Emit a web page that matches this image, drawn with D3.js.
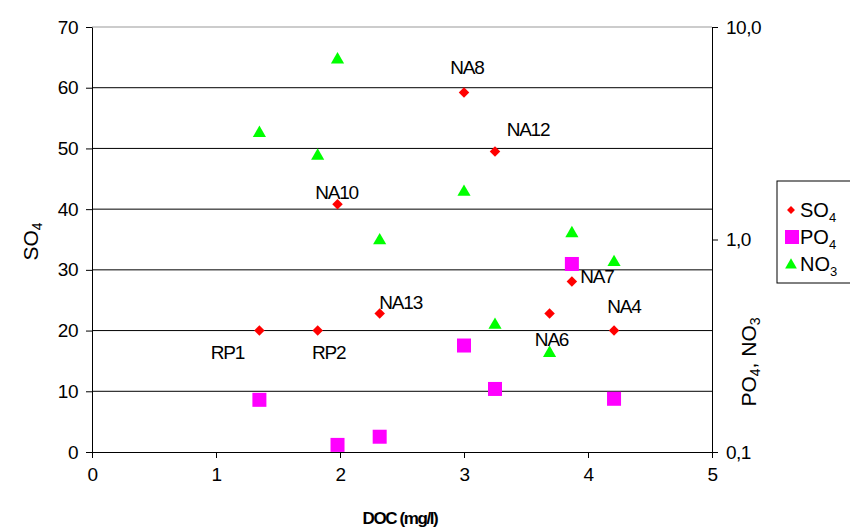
<!DOCTYPE html>
<html>
<head>
<meta charset="utf-8">
<script src="https://cdn.jsdelivr.net/npm/d3@7"></script>
<style>
  body { margin: 0; background: #fff; }
  svg { font-family: "Liberation Sans", Arial, sans-serif; }
</style>
</head>
<body>
<div class="container"></div>
<script>
const sites = ["RP1", "RP2", "NA13", "NA10", "NA8", "NA12", "NA7", "NA6", "NA4"];
const doc = [1.35, 1.82, 2.32, 1.98, 3.0, 3.25, 3.87, 3.69, 4.21];
const so4 = [20, 20, 22.8, 40.8, 59.2, 49.5, 28.1, 22.8, 20];
const po4 = [0.176, null, 0.118, 0.108, 0.317, 0.198, 0.767, null, 0.178];
const no3 = [3.2, 2.5, 1.0, 7.1, 1.69, 0.40, 1.08, 0.295, 0.79];

const xTicks = [0, 1, 2, 3, 4, 5];
const leftTicks = [0, 10, 20, 30, 40, 50, 60, 70];
const rightTicks = [0.1, 1, 10];

// where each site label sits relative to its diamond
const labelPos = {
  RP1: [-32, 28], RP2: [11, 28], NA13: [21, -5], NA10: [-1, -5], NA8: [3, -19],
  NA12: [33, -15], NA7: [25, 2], NA6: [2, 32], NA4: [10, -18]
};

const width = 850, height = 528;
const margin = { top: 27, right: 138, bottom: 76, left: 92 };

const svg = d3.select(".container")
  .append("svg")
  .attr("width", width)
  .attr("height", height);

const x = d3.scaleLinear().domain([0, 5]).range([margin.left, width - margin.right]);
const yL = d3.scaleLinear().domain([0, 70]).range([height - margin.bottom, margin.top]);
const yR = d3.scaleLog().domain([0.1, 10]).range([height - margin.bottom, margin.top]);

// gridlines
svg.append("g")
  .selectAll("line")
  .data(leftTicks.filter(d => d > 0))
  .enter().append("line")
  .attr("x1", x(0)).attr("x2", x(5))
  .attr("y1", d => yL(d)).attr("y2", d => yL(d))
  .attr("stroke", d => d === 70 ? "#999" : "#000")
  .attr("stroke-width", 1);

// axes
const fmt = d3.format(".1f");
const axisStyle = g => {
  g.select(".domain").attr("stroke", "#000");
  g.selectAll(".tick line").attr("stroke", "#000");
  g.selectAll("text").attr("font-size", 19).attr("fill", "#000")
    .attr("letter-spacing", -0.5)
    .attr("font-family", "'Liberation Sans', Arial, sans-serif");
};

svg.append("g")
  .attr("transform", `translate(0,${yL(0)})`)
  .call(d3.axisBottom(x).tickValues(xTicks).tickFormat(d3.format("d"))
    .tickSize(6).tickPadding(10).tickSizeOuter(0))
  .call(axisStyle);

svg.append("g")
  .attr("transform", `translate(${x(0)},0)`)
  .call(d3.axisLeft(yL).tickValues(leftTicks).tickSize(6).tickPadding(8).tickSizeOuter(0))
  .call(axisStyle);

svg.append("g")
  .attr("transform", `translate(${x(5)},0)`)
  .call(d3.axisRight(yR).tickValues(rightTicks).tickFormat(d => fmt(d).replace(".", ","))
    .tickSize(6).tickPadding(8).tickSizeOuter(0))
  .call(axisStyle);

// axis titles
svg.append("text")
  .attr("transform", `translate(38,${(yL(0) + yL(70)) / 2 + 2}) rotate(-90)`)
  .attr("text-anchor", "middle")
  .attr("font-size", 21)
  .html('SO<tspan font-size="14" dy="4">4</tspan>');

svg.append("text")
  .attr("transform", `translate(756,362) rotate(-90)`)
  .attr("text-anchor", "middle")
  .attr("font-size", 21)
  .html('PO<tspan font-size="14" dy="4">4</tspan><tspan dy="-4">, NO</tspan><tspan font-size="14" dy="4">3</tspan>');

svg.append("text")
  .attr("x", (x(0) + x(5)) / 2 - 2)
  .attr("y", 524)
  .attr("text-anchor", "middle")
  .attr("font-size", 17)
  .attr("font-weight", "bold")
  .attr("letter-spacing", -1.4)
  .text("DOC (mg/l)");

// NO3 triangles (right axis)
const tri = d3.symbol().type(d3.symbolTriangle).size(75);
svg.append("g")
  .selectAll("path")
  .data(sites.map((s, i) => ({ x: doc[i], v: no3[i] })).filter(d => d.v != null))
  .enter().append("path")
  .attr("d", tri)
  .attr("transform", d => `translate(${x(d.x)},${yR(d.v) + 1})`)
  .attr("fill", "#00ff00");

// PO4 squares (right axis)
svg.append("g")
  .selectAll("rect")
  .data(sites.map((s, i) => ({ x: doc[i], v: po4[i] })).filter(d => d.v != null))
  .enter().append("rect")
  .attr("x", d => x(d.x) - 7)
  .attr("y", d => yR(d.v) - 7)
  .attr("width", 14)
  .attr("height", 14)
  .attr("fill", "#ff00ff");

// SO4 diamonds (left axis)
const diamond = d3.symbol().type(d3.symbolDiamond2).size(70);
const so4Data = sites.map((s, i) => ({ name: s, x: doc[i], v: so4[i] }));
svg.append("g")
  .selectAll("path")
  .data(so4Data)
  .enter().append("path")
  .attr("d", diamond)
  .attr("transform", d => `translate(${x(d.x)},${yL(d.v)})`)
  .attr("fill", "#ff0000");

// site labels
svg.append("g")
  .selectAll("text")
  .data(so4Data)
  .enter().append("text")
  .attr("x", d => x(d.x) + labelPos[d.name][0])
  .attr("y", d => yL(d.v) + labelPos[d.name][1])
  .attr("text-anchor", "middle")
  .attr("font-size", 19)
  .attr("letter-spacing", -1.2)
  .text(d => d.name);

// legend
const legend = svg.append("g").attr("transform", "translate(777,181)");
legend.append("rect")
  .attr("width", 80).attr("height", 102)
  .attr("fill", "#fff").attr("stroke", "#000");

const legendItems = [
  { name: "SO", sub: "4", kind: "diamond", color: "#ff0000" },
  { name: "PO", sub: "4", kind: "square", color: "#ff00ff" },
  { name: "NO", sub: "3", kind: "triangle", color: "#00ff00" }
];
legendItems.forEach((d, i) => {
  const row = legend.append("g").attr("transform", `translate(0,${29 + i * 27})`);
  if (d.kind === "diamond") {
    row.append("path").attr("d", d3.symbol().type(d3.symbolDiamond2).size(40))
      .attr("transform", "translate(14,0)").attr("fill", d.color);
  } else if (d.kind === "square") {
    row.append("rect").attr("x", 8).attr("y", -7).attr("width", 14).attr("height", 14)
      .attr("fill", d.color);
  } else {
    row.append("path").attr("d", d3.symbol().type(d3.symbolTriangle).size(60))
      .attr("transform", "translate(14,1)").attr("fill", d.color);
  }
  row.append("text")
    .attr("x", 23).attr("y", 7)
    .attr("font-size", 20)
    .html(`${d.name}<tspan font-size="13" dy="5">${d.sub}</tspan>`);
});
</script>
</body>
</html>
